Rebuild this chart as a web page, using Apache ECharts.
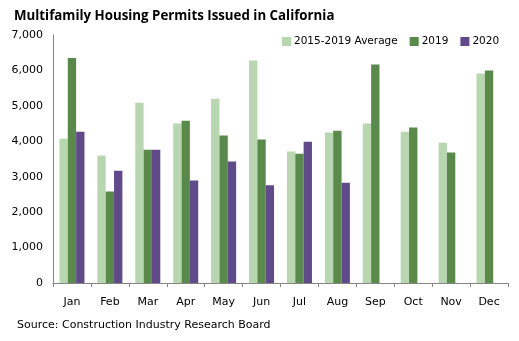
<!DOCTYPE html>
<html><head><meta charset="utf-8">
<script src="https://cdn.jsdelivr.net/npm/echarts@6/dist/echarts.min.js"></script>
<style>html,body{margin:0;padding:0;background:#fff}#c{width:519px;height:341px}</style>
</head><body><div id="c"></div>
<script>
const months = ["Jan","Feb","Mar","Apr","May","Jun","Jul","Aug","Sep","Oct","Nov","Dec"];
const avg2015_2019 = [4070,3600,5090,4500,5200,6280,3710,4250,4500,4270,3960,5910];
const y2019 = [6350,2580,3760,4580,4160,4050,3650,4300,6170,4390,3680,6000];
const y2020 = [4270,3170,3760,2890,3430,2760,3990,2830,null,null,null,null];
const seriesNames = ["2015-2019 Average","2019","2020"];
const colors = ["#b8d7b0","#5a8a4a","#604a8b"];

const chart = echarts.init(document.getElementById('c'), null, {renderer:'canvas'});
const font = "DejaVu Sans";
chart.setOption({
  animation:false,
  title:{text:"Multifamily Housing Permits Issued in California", left:9, top:5,
    textStyle:{fontFamily:"Open Sans", fontWeight:"bold", fontSize:13.3, color:"#000"}},
  graphic:[{type:'text', left:17, top:320, style:{text:"Source: Construction Industry Research Board", font:"11px DejaVu Sans", fill:"#000"}}],
  legend:{data:seriesNames, left:277, top:31, icon:'rect', itemWidth:9, itemHeight:9, itemGap:12,
    textStyle:{fontFamily:font, fontSize:10.5, color:"#000", padding:[0,0,0,-2]}},
  grid:{left:53, right:11, top:35, bottom:58},
  xAxis:{type:'category', data:months,
    axisLine:{lineStyle:{color:"#868686"}},
    axisTick:{show:true, length:4, lineStyle:{color:"#868686"}},
    axisLabel:{fontFamily:font, fontSize:11, color:"#000", margin:14}},
  yAxis:{type:'value', min:0, max:7000, interval:1000,
    axisLine:{show:true, lineStyle:{color:"#868686"}},
    axisTick:{show:false},
    splitLine:{show:false},
    axisLabel:{fontFamily:font, fontSize:11, color:"#000", margin:10,
      formatter:v=>v.toLocaleString('en-US')}},
  series:[
    {name:seriesNames[0], type:'bar', data:avg2015_2019, itemStyle:{color:colors[0]}, barGap:'0%', barCategoryGap:'34%'},
    {name:seriesNames[1], type:'bar', data:y2019, itemStyle:{color:colors[1]}, barGap:'0%', barCategoryGap:'34%'},
    {name:seriesNames[2], type:'bar', data:y2020, itemStyle:{color:colors[2]}, barGap:'0%', barCategoryGap:'34%'}
  ]
});
</script></body></html>
